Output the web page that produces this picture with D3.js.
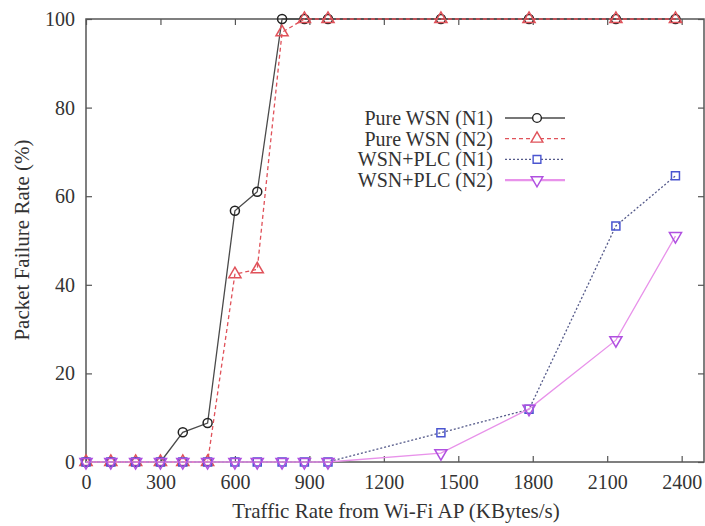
<!DOCTYPE html>
<html>
<head>
<meta charset="utf-8">
<script src="https://cdn.jsdelivr.net/npm/d3@7"></script>
<style>
body { margin: 0; background: #fff; }
text { font-family: "Liberation Serif", "DejaVu Serif", serif; fill: #333; }
</style>
</head>
<body>
<svg id="graph"></svg>
<script>
// data
var rates = [0, 100, 200, 300, 390, 490, 600, 690, 790, 880, 975, 1430, 1785, 2135, 2375];
var pureN1 = [0, 0, 0, 0, 6.7, 8.8, 56.7, 61, 100, 100, 100, 100, 100, 100, 100];
var pureN2 = [0, 0, 0, 0, 0, 0, 42.4, 43.5, 97, 100, 100, 100, 100, 100, 100];
var plcN1 = [0, 0, 0, 0, 0, 0, 0, 0, 0, 0, 0, 6.6, 11.9, 53.3, 64.6];
var plcN2 = [0, 0, 0, 0, 0, 0, 0, 0, 0, 0, 0, 2.0, 12, 27.5, 51];
var xTicks = [0, 300, 600, 900, 1200, 1500, 1800, 2100, 2400];
var yTicks = [0, 20, 40, 60, 80, 100];
var seriesNames = ["Pure WSN (N1)", "Pure WSN (N2)", "WSN+PLC (N1)", "WSN+PLC (N2)"];

var series = [
    { name: seriesNames[0], values: pureN1, line: "#4a4a4a", mark: "#222", dash: null, sym: d3.symbolCircle },
    { name: seriesNames[1], values: pureN2, line: "#e0525a", mark: "#e0525a", dash: "4,3", sym: d3.symbolTriangle },
    { name: seriesNames[2], values: plcN1, line: "#555a8a", mark: "#4a55d0", dash: "2,2", sym: d3.symbolSquare },
    { name: seriesNames[3], values: plcN2, line: "#e892ea", mark: "#b050e0", dash: null, sym: "tri-down" }
];

var width = 705, height = 526;
var mLeft = 86, mTop = 19, mRight = 704, mBottom = 462;

var svg = d3.select("#graph")
    .attr("width", width)
    .attr("height", height);

var x = d3.scaleLinear().domain([0, 2490]).range([mLeft, mRight]);
var y = d3.scaleLinear().domain([0, 100]).range([mBottom, mTop]);

// frame
svg.append("rect")
    .attr("x", mLeft).attr("y", mTop)
    .attr("width", mRight - mLeft).attr("height", mBottom - mTop)
    .attr("fill", "none").attr("stroke", "#555").attr("stroke-width", 1.5);

// axes with inward ticks
var xAxis = svg.append("g")
    .attr("transform", "translate(0," + mBottom + ")")
    .call(d3.axisBottom(x).tickValues(xTicks).tickSize(-6).tickPadding(13).tickFormat(d3.format("d")));
var xTop = svg.append("g")
    .attr("transform", "translate(0," + mTop + ")")
    .call(d3.axisTop(x).tickValues(xTicks).tickSize(-6).tickFormat(""));
var yAxis = svg.append("g")
    .attr("transform", "translate(" + mLeft + ",0)")
    .call(d3.axisLeft(y).tickValues(yTicks).tickSize(-6).tickPadding(11));
var yRight = svg.append("g")
    .attr("transform", "translate(" + mRight + ",0)")
    .call(d3.axisRight(y).tickValues(yTicks).tickSize(-6).tickFormat(""));

[xAxis, xTop, yAxis, yRight].forEach(function (g) {
    g.select(".domain").remove();
    g.selectAll(".tick line").attr("stroke", "#555").attr("stroke-width", 1.2);
    g.selectAll(".tick text")
        .attr("font-family", "Liberation Serif")
        .attr("font-size", 20)
        .attr("fill", "#333");
});

function symbolPath(sym, size) {
    if (sym === "tri-down") {
        return d3.symbol().type(d3.symbolTriangle).size(size)();
    }
    return d3.symbol().type(sym).size(size)();
}

var line = d3.line()
    .x(function (d) { return x(d[0]); })
    .y(function (d) { return y(d[1]); });

series.forEach(function (s) {
    var pts = rates.map(function (r, i) { return [r, s.values[i]]; });
    svg.append("path")
        .datum(pts)
        .attr("d", line)
        .attr("fill", "none")
        .attr("stroke", s.line)
        .attr("stroke-width", 1.3)
        .attr("stroke-dasharray", s.dash);
    svg.selectAll(null)
        .data(pts)
        .enter()
        .append("path")
        .attr("d", symbolPath(s.sym, 64))
        .attr("transform", function (d) {
            return "translate(" + x(d[0]) + "," + y(d[1]) + ")" + (s.sym === "tri-down" ? " rotate(180)" : "");
        })
        .attr("fill", "none")
        .attr("stroke", s.mark)
        .attr("stroke-width", 1.5);
});

// legend
var legend = svg.append("g");
series.forEach(function (s, i) {
    var ly = 118 + i * 20.7;
    legend.append("text")
        .attr("x", 493).attr("y", ly + 7)
        .attr("text-anchor", "end")
        .attr("font-size", 20)
        .text(s.name);
    legend.append("line")
        .attr("x1", 505).attr("x2", 565)
        .attr("y1", ly).attr("y2", ly)
        .attr("stroke", i === 0 ? "#777" : s.line)
        .attr("stroke-width", s.dash ? 1.3 : 2.2)
        .attr("stroke-dasharray", s.dash);
    legend.append("path")
        .attr("d", symbolPath(s.sym, 60))
        .attr("transform", "translate(537," + ly + ")" + (s.sym === "tri-down" ? " rotate(180)" : ""))
        .attr("fill", "#fff")
        .attr("stroke", s.mark)
        .attr("stroke-width", 1.4);
});

// axis titles
svg.append("text")
    .attr("x", 396).attr("y", 518)
    .attr("text-anchor", "middle")
    .attr("font-size", 21)
    .text("Traffic Rate from Wi-Fi AP (KBytes/s)");
svg.append("text")
    .attr("transform", "translate(29,240) rotate(-90)")
    .attr("text-anchor", "middle")
    .attr("font-size", 21)
    .text("Packet Failure Rate (%)");
</script>
</body>
</html>
